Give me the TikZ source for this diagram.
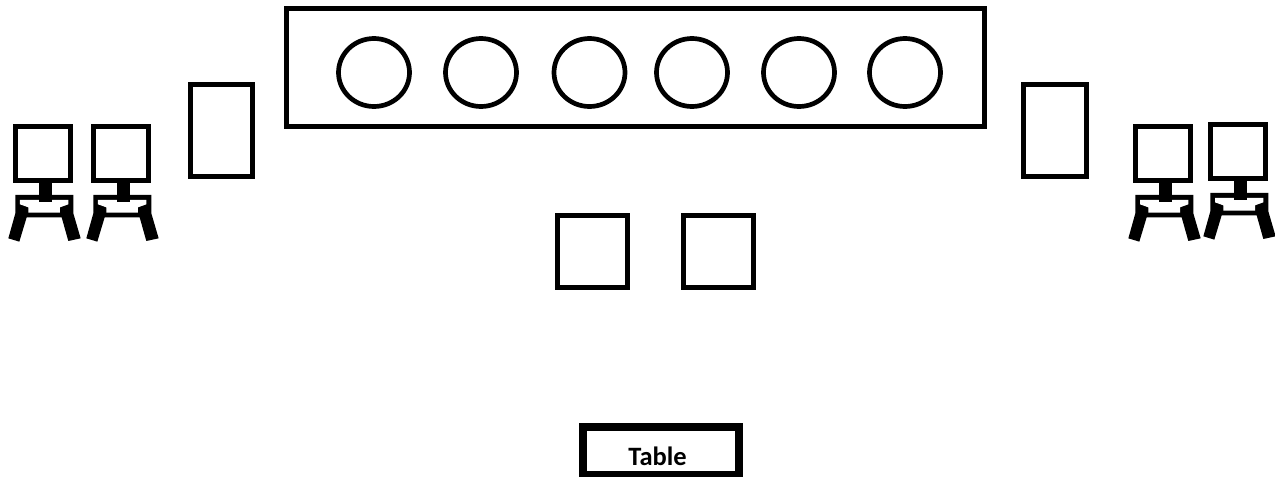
\documentclass[tikz,border=0pt]{standalone}
\usepackage{fontspec}
\setmainfont{Carlito}
\usetikzlibrary{shapes.geometric}
\tikzset{
  outl/.style={draw=black,line width=5pt,fill=white},
  pics/seat/.style={code={
    \begin{scope}[x=0.3333pt,y=-0.3333pt]
      \draw[outl] (45.5,49.5) rectangle (212.5,213);
      \fill[black] (46,255) -- (220,255) -- (220,310) -- (242,385) -- (205,393) -- (185,322) -- (80,322) -- (58,395) -- (25,385) -- (46,310) -- cycle;
      \fill[white] (60,270) -- (205,270) -- (205,283) -- (180,292) -- (180,308) -- (85,308) -- (85,292) -- (60,283) -- cycle;
      \fill[black] (118,205) rectangle (155,277);
    \end{scope}
  }}
}
\begin{document}
\begin{tikzpicture}[x=1pt,y=-1pt]
\useasboundingbox (0,0) rectangle (1275,477);
\fill[white] (0,0) rectangle (1275,477);
\draw[outl] (286,8.2) rectangle (984,126.8);
\foreach \n/\cx in {a/374,b/481,c/589.5,d/692,e/799,f/905}
  \node[outl,line width=4.7pt,ellipse,inner sep=0pt,minimum width=71pt,minimum height=68pt] (\n) at (\cx,72.5) {};
\draw[outl] (190,84.3) rectangle (252.7,176);
\draw[outl] (1023.6,84.3) rectangle (1086.4,176);
\draw[outl] (557.6,215) rectangle (627.4,287.4);
\draw[outl] (683.6,215) rectangle (753.4,287.4);
\pic at (0,110) {seat};
\pic at (78,110) {seat};
\pic at (1120,110) {seat};
\pic at (1195,108) {seat};
\fill[black] (579,423) rectangle (743,477);
\fill[white] (587,431) rectangle (735,471);
\node[inner sep=0pt,font=\fontsize{26.5}{30}\selectfont\bfseries] (table) at (657.5,456.5) {Table};
\end{tikzpicture}
\end{document}
